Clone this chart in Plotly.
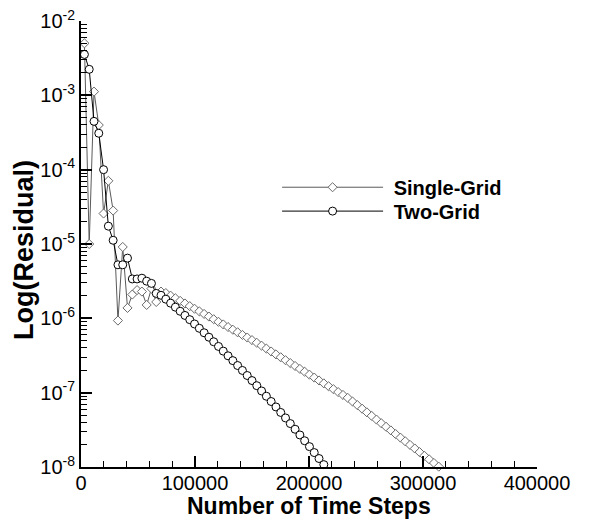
import numpy as np
import plotly.graph_objects as go

# Sample positions (number of time steps)
steps = [3000, 7200, 11400, 15600, 19800, 24000, 28200, 32400, 36600, 40800,
         45000, 49200, 53400, 57600, 61800, 66000, 70200, 74400, 78600, 82800,
         87000, 91200, 95400, 99600, 103800, 108000, 112200, 116400, 120600, 124800,
         129000, 133200, 137400, 141600, 145800, 150000, 154200, 158400, 162600, 166800,
         171000, 175200, 179400, 183600, 187800, 192000, 196200, 200400, 204600, 208800,
         213000, 217200, 221400, 225600, 229800, 234000, 238200, 242400, 246600, 250800,
         255000, 259200, 263400, 267600, 271800, 276000, 280200, 284400, 288600, 292800,
         297000, 301200, 305400, 309600, 313800]

# log10(residual)
single_log = [-2.30, -5.00, -2.95, -3.40, -4.59, -4.15, -4.55, -6.03, -5.04, -5.86,
              -5.68, -5.62, -5.64, -5.82, -5.60, -5.78, -5.64, -5.66, -5.695, -5.730,
              -5.765, -5.800, -5.836, -5.871, -5.906, -5.941, -5.976, -6.012, -6.047, -6.082,
              -6.117, -6.153, -6.188, -6.223, -6.258, -6.293, -6.329, -6.368, -6.407, -6.446,
              -6.485, -6.524, -6.563, -6.602, -6.641, -6.680, -6.719, -6.758, -6.797, -6.836,
              -6.875, -6.914, -6.953, -6.992, -7.031, -7.070, -7.119, -7.167, -7.216, -7.265,
              -7.313, -7.362, -7.411, -7.459, -7.508, -7.557, -7.605, -7.654, -7.703, -7.751,
              -7.800, -7.849, -7.897, -7.946, -7.995]

two_log = [-2.45, -2.65, -3.35, -3.51, -4.00, -4.76, -4.95, -5.28, -5.28, -5.19,
           -5.47, -5.47, -5.46, -5.50, -5.53, -5.665, -5.690, -5.742, -5.796, -5.850,
           -5.905, -5.961, -6.018, -6.076, -6.134, -6.194, -6.254, -6.315, -6.378, -6.441,
           -6.504, -6.569, -6.635, -6.701, -6.769, -6.837, -6.906, -6.977, -7.048, -7.119,
           -7.192, -7.266, -7.340, -7.416, -7.492, -7.569, -7.647, -7.726, -7.806, -7.886,
           -7.968]

y_tickvals = [1e-8, 1e-7, 1e-6, 1e-5, 1e-4, 1e-3, 1e-2]
y_ticktext = ["10<sup>-8</sup>", "10<sup>-7</sup>", "10<sup>-6</sup>", "10<sup>-5</sup>",
              "10<sup>-4</sup>", "10<sup>-3</sup>", "10<sup>-2</sup>"]
x_tickvals = [0, 100000, 200000, 300000, 400000]
x_ticktext = ["0", "100000", "200000", "300000", "400000"]

single_res = [10 ** v for v in single_log]
two_res = [10 ** v for v in two_log]

y_minor = [m * 10 ** e for e in range(-8, -2) for m in range(2, 10)]

FONT = "Liberation Sans, Arial, sans-serif"

# page body has an 8px margin, so the figure is placed 8px in from the top-left
W, H = 599, 517
ML, MT = 73, 13
PW, PH = 456, 446

fig = go.Figure()
fig.add_trace(go.Scatter(
    x=steps[:len(single_res)], y=single_res, mode="lines+markers", name=" Single-Grid",
    line=dict(color="#5a5a5a", width=1),
    marker=dict(symbol="diamond", size=7, color="white", line=dict(color="#6a6a6a", width=1)),
    cliponaxis=False, legend="legend",
))
fig.add_trace(go.Scatter(
    x=steps[:len(two_res)], y=two_res, mode="lines+markers", name=" Two-Grid",
    line=dict(color="black", width=1),
    marker=dict(symbol="circle", size=8, color="white", line=dict(color="black", width=1)),
    cliponaxis=False, legend="legend2",
))

legend_common = dict(xanchor="left", yanchor="top", bgcolor="rgba(0,0,0,0)",
                     itemwidth=101, font=dict(size=20, family=FONT, weight="bold"))

fig.update_layout(
    template="none",
    width=W, height=H,
    margin=dict(l=ML, r=W - ML - PW, t=MT, b=H - MT - PH, pad=0, autoexpand=False),
    paper_bgcolor="white", plot_bgcolor="white",
    font=dict(family=FONT, color="black"),
    showlegend=True,
    legend=dict(x=0.43, y=0.671, **legend_common),
    legend2=dict(x=0.43, y=0.6175, **legend_common),
    xaxis=dict(
        automargin=False,
        range=[0, 400000], tickmode="array", tickvals=x_tickvals, ticktext=x_ticktext,
        ticks="inside", ticklen=11, tickwidth=2, tickcolor="black",
        showline=True, linewidth=2, linecolor="black", mirror=False,
        showgrid=False, zeroline=False, ticklabelstandoff=-3,
        tickfont=dict(size=20, family=FONT),
        minor=dict(tickmode="linear", tick0=0, dtick=20000, ticks="inside",
                   ticklen=6, tickwidth=1, tickcolor="black", showgrid=False),
    ),
    yaxis=dict(
        automargin=False,
        type="log", range=[-8, -2], tickmode="array", tickvals=y_tickvals, ticktext=y_ticktext,
        ticks="inside", ticklen=11, tickwidth=2, tickcolor="black",
        showline=True, linewidth=2, linecolor="black", mirror=False,
        showgrid=False, zeroline=False, ticklabeloverflow="allow",
        tickfont=dict(size=20, family=FONT),
        minor=dict(tickmode="array", tickvals=y_minor, ticks="inside",
                   ticklen=6, tickwidth=1, tickcolor="black", showgrid=False),
    ),
    annotations=[
        dict(text="<b>Number of Time Steps</b>", xref="paper", yref="paper",
             x=0.5, y=-24 / PH, xanchor="center", yanchor="top", showarrow=False,
             font=dict(size=23, family=FONT)),
        dict(text="<b>Log(Residual)</b>", xref="paper", yref="paper",
             x=-57 / PW, y=0.5 - 6 / PH, xanchor="center", yanchor="middle", showarrow=False,
             textangle=-90, font=dict(size=27, family=FONT)),
    ],
)

fig.write_html("out.html")
